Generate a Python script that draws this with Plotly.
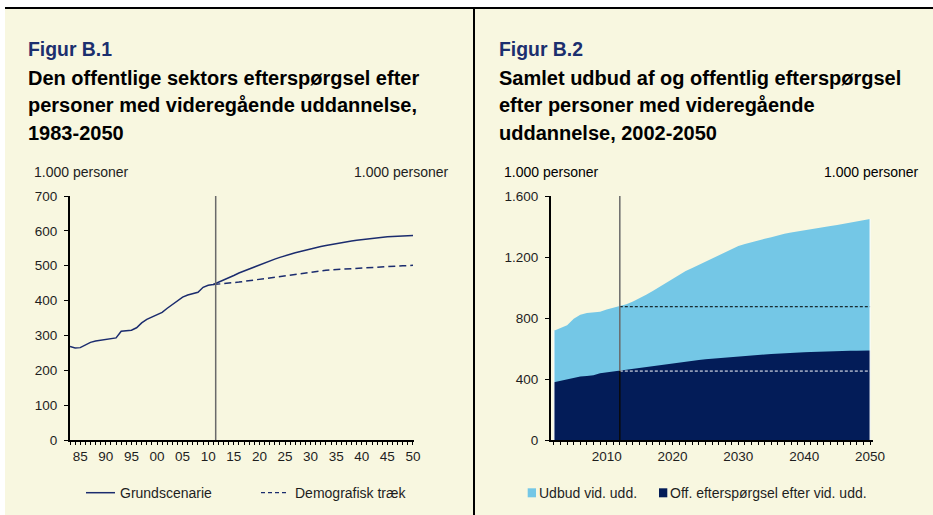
import plotly.graph_objects as go

# ---------------- data ----------------
# Figur B.1: public sector demand, 1.000 persons
hist_years = list(range(1983, 2012))
grund_hist = [268, 264, 265, 272, 280, 284, 286, 288, 291, 293,
              312, 313, 315, 322, 336, 346, 352, 358, 366, 378,
              388, 398, 410, 416, 420, 424, 438, 444, 446]

proj_years = list(range(2011, 2051))
grund_proj = [446, 452, 459, 466, 472, 479, 485, 491, 497, 503,
              508, 514, 519, 524, 529, 533, 537, 541, 545, 549,
              552, 555, 558, 561, 564, 567, 569, 571, 573, 575,
              577, 579, 580, 581, 583, 584, 585, 586, 587, 587]
demo_proj = [446, 447, 448, 450, 451, 453, 455, 457, 459, 462,
             464, 467, 469, 471, 473, 475, 477, 479, 481, 483,
             485, 486, 487, 488, 489, 490, 491, 492, 493, 494,
             495, 496, 497, 498, 498, 499, 499, 500, 500, 501]

# Figur B.2: supply and public demand, 1.000 persons
b2_years = list(range(2002, 2051))
supply = [717, 733, 752, 795, 822, 832, 838, 841, 855, 866,
          874, 890, 908, 929, 952, 977, 1003, 1030, 1058, 1085,
          1108, 1128, 1148, 1168, 1188, 1208, 1228, 1252, 1272, 1285,
          1298, 1310, 1320, 1330, 1342, 1352, 1360, 1368, 1375, 1382,
          1390, 1396, 1403, 1410, 1418, 1426, 1434, 1442, 1450]
demand = grund_hist[b2_years[0] - hist_years[0]:] + grund_proj[1:]

proj_start = 2012
b1_split = 2011.46

b1_ytick = [0, 100, 200, 300, 400, 500, 600, 700]
b2_ytick = [0, 400, 800, 1200, 1600]
b2_ytext = ["0", "400", "800", "1.200", "1.600"]

# ---------------- styling ----------------
W, H = 933, 515
FONT = "Liberation Sans, Arial, sans-serif"
CREAM = "#F8F7E0"
NAVY = "#1B2C6E"
TITLE_NAVY = "#1C2F6E"
DARK = "#031C58"
LIGHT = "#74C7E6"
TXT = "#1E1E1E"
GREY = "#6A6A6A"
TITLE_SIZE = 20


def px(x):
    return x / W


def py(y):
    return 1 - y / H


fig = go.Figure()

# Figur B.1 lines
fig.add_trace(go.Scatter(x=hist_years + proj_years[1:], y=grund_hist + grund_proj[1:],
                         mode="lines", line=dict(color=NAVY, width=1.5),
                         xaxis="x", yaxis="y", hoverinfo="skip"))
fig.add_trace(go.Scatter(x=proj_years, y=demo_proj, mode="lines",
                         line=dict(color=NAVY, width=1.5, dash="7px,4px"),
                         xaxis="x", yaxis="y", hoverinfo="skip"))

# Figur B.2 areas
fig.add_trace(go.Scatter(x=b2_years, y=supply, mode="lines", fill="tozeroy",
                         fillcolor=LIGHT, line=dict(color=LIGHT, width=0),
                         xaxis="x2", yaxis="y3", hoverinfo="skip"))
fig.add_trace(go.Scatter(x=b2_years, y=demand, mode="lines", fill="tozeroy",
                         fillcolor=DARK, line=dict(color=DARK, width=0),
                         xaxis="x2", yaxis="y3", hoverinfo="skip"))
# thin white edges at both ends of the area block
for k in (0, -1):
    fig.add_trace(go.Scatter(x=[b2_years[k], b2_years[k]], y=[0, supply[k]], mode="lines",
                             line=dict(color="white", width=1),
                             xaxis="x2", yaxis="y3", hoverinfo="skip"))
i0 = b2_years.index(proj_start)
fig.add_trace(go.Scatter(x=[proj_start, b2_years[-1]], y=[supply[i0], supply[i0]],
                         mode="lines", line=dict(color="black", width=1, dash="3px,2px"),
                         xaxis="x2", yaxis="y3", hoverinfo="skip"))
fig.add_trace(go.Scatter(x=[proj_start, b2_years[-1]], y=[demand[i0], demand[i0]],
                         mode="lines", line=dict(color="white", width=1, dash="3px,2px"),
                         xaxis="x2", yaxis="y3", hoverinfo="skip"))

ydom = [py(440), py(196)]
tickfont = dict(family=FONT, size=13.5, color=TXT)
axis_common = dict(showline=True, linecolor="black", linewidth=2, showgrid=False,
                   zeroline=False, ticks="outside", tickcolor="black", tickwidth=1,
                   tickfont=tickfont, fixedrange=True, automargin=False)

b1_xt = list(range(1983, 2051))
b1_xtext = [f"{y % 100:02d}" if y % 5 == 0 else "" for y in b1_xt]
b2_xt = list(range(2002, 2051))
b2_xtext = [str(y) if y % 10 == 0 else "" for y in b2_xt]

fig.update_layout(
    template="none",
    width=W, height=H, autosize=False, margin=dict(l=0, r=0, t=0, b=0, pad=0),
    paper_bgcolor=CREAM, plot_bgcolor="rgba(0,0,0,0)",
    showlegend=False, font=dict(family=FONT, color=TXT),
    xaxis=dict(domain=[px(70), px(414)], range=[1983, 2050.2], anchor="y",
               tickmode="array", tickvals=b1_xt, ticktext=b1_xtext, ticklen=3,
               **axis_common),
    yaxis=dict(domain=ydom, range=[0, 700], anchor="x", tickmode="array",
               tickvals=b1_ytick, ticklen=4, ticklabelstandoff=4, **axis_common),
    yaxis2=dict(domain=ydom, range=[0, 700], anchor="x", overlaying="y", side="right",
                tickmode="array", tickvals=b1_ytick, ticklen=4, ticklabelstandoff=4,
                **axis_common),
    xaxis2=dict(domain=[px(551), px(872.7)], range=[2001.55, 2050.4], anchor="y3",
                tickmode="array", tickvals=b2_xt, ticktext=b2_xtext, ticklen=3,
                **axis_common),
    yaxis3=dict(domain=ydom, range=[0, 1600], anchor="x2", tickmode="array",
                tickvals=b2_ytick, ticktext=b2_ytext, ticklen=4, ticklabelstandoff=4,
                **axis_common),
    yaxis4=dict(domain=ydom, range=[0, 1600], anchor="x2", overlaying="y3", side="right",
                tickmode="array", tickvals=b2_ytick, ticktext=b2_ytext, ticklen=4,
                ticklabelstandoff=4, **axis_common),
)

shapes = [
    # white margin strips, frame rule and panel divider
    dict(type="rect", xref="paper", yref="paper", x0=0, x1=1, y0=py(8), y1=1,
         fillcolor="white", line_width=0, layer="above"),
    dict(type="rect", xref="paper", yref="paper", x0=0, x1=px(5), y0=0, y1=1,
         fillcolor="white", line_width=0, layer="above"),
    dict(type="line", xref="paper", yref="paper", x0=px(5), x1=1, y0=py(8), y1=py(8),
         line=dict(color="black", width=2)),
    dict(type="line", xref="paper", yref="paper", x0=px(474), x1=px(474), y0=0, y1=py(8),
         line=dict(color="black", width=2)),
    # projection start markers
    dict(type="line", xref="x", yref="y", x0=b1_split, x1=b1_split, y0=0, y1=700,
         line=dict(color=GREY, width=1.5)),
    dict(type="line", xref="x2", yref="y3", x0=proj_start, x1=proj_start,
         y0=demand[i0], y1=1600, line=dict(color=GREY, width=1.5)),
    dict(type="line", xref="x2", yref="y3", x0=proj_start, x1=proj_start,
         y0=0, y1=demand[i0], line=dict(color="#0A0A0A", width=1.5)),
    # legend keys
    dict(type="line", xref="paper", yref="paper", x0=px(86), x1=px(115),
         y0=py(492.7), y1=py(492.7), line=dict(color=NAVY, width=1.5)),
    dict(type="line", xref="paper", yref="paper", x0=px(261), x1=px(289),
         y0=py(492.7), y1=py(492.7), line=dict(color=NAVY, width=1.2, dash="4px,3px")),
    dict(type="rect", xref="paper", yref="paper", x0=px(527.7), x1=px(536),
         y0=py(497.3), y1=py(488.3), fillcolor=LIGHT, line_width=0),
    dict(type="rect", xref="paper", yref="paper", x0=px(659), x1=px(667.3),
         y0=py(497.3), y1=py(488.3), fillcolor=DARK, line_width=0),
]
fig.update_layout(shapes=shapes)


def label(text, x, y, size=14, color=TXT, bold=False, xanchor="left"):
    fig.add_annotation(text=f"<b>{text}</b>" if bold else text, x=px(x), y=py(y),
                       xref="paper", yref="paper", xanchor=xanchor, yanchor="middle",
                       showarrow=False, font=dict(family=FONT, size=size, color=color))


# titles
label("Figur B.1", 26, 49.3, size=TITLE_SIZE - 0.6, color=TITLE_NAVY, bold=True)
for i, line in enumerate(["Den offentlige sektors efterspørgsel efter",
                          "personer med videregående uddannelse,",
                          "1983-2050"]):
    label(line, 26, 78.3 + 27.2 * i, size=TITLE_SIZE, color="black", bold=True)
label("Figur B.2", 496.5, 49.3, size=TITLE_SIZE - 0.6, color=TITLE_NAVY, bold=True)
for i, line in enumerate(["Samlet udbud af og offentlig efterspørgsel",
                          "efter personer med videregående",
                          "uddannelse, 2002-2050"]):
    label(line, 496.5, 78.3 + 27.2 * i, size=TITLE_SIZE, color="black", bold=True)

# unit labels
label("1.000 personer", 31.5, 171.7)
label("1.000 personer", 451, 171.7, xanchor="right")
label("1.000 personer", 501.5, 171.7, color="black")
label("1.000 personer", 921, 171.7, color="black", xanchor="right")

# legends
label("Grundscenarie", 117.5, 492.7)
label("Demografisk træk", 292.5, 492.7)
label("Udbud vid. udd.", 537, 492.7)
label("Off. efterspørgsel efter vid. udd.", 668, 492.7)

fig.write_html("out.html")
